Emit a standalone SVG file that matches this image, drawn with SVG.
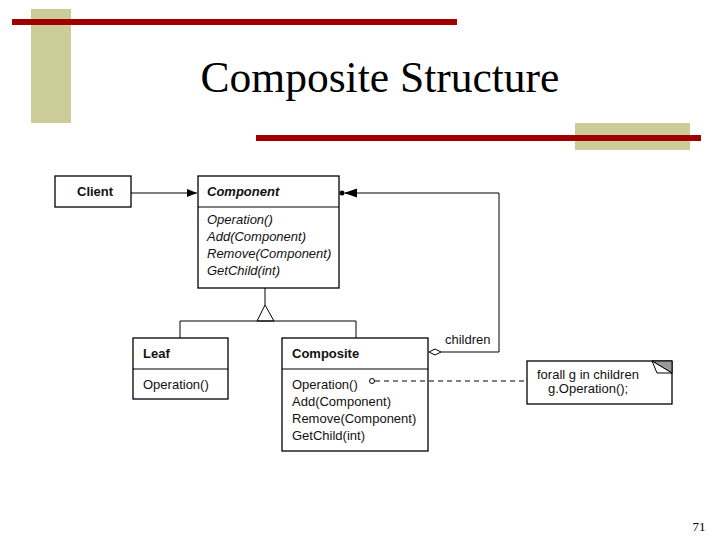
<svg xmlns="http://www.w3.org/2000/svg" width="720" height="540" viewBox="0 0 720 540">
<defs>
<style>
.tan{fill:#CCCC99}
.red{fill:#A00000}
.title{font-family:"Liberation Serif","Times New Roman",serif;font-size:43.5px;fill:#000}
.pg{font-family:"Liberation Serif","Times New Roman",serif;font-size:13px;fill:#000}
.box{fill:#fff;stroke:#000;stroke-width:1.3}
.ln{fill:none;stroke:#000;stroke-width:1}
.t{font-family:"Liberation Sans",Arial,sans-serif;font-size:13px;fill:#111}
.b{font-weight:bold}
.i{font-style:italic}
.dash{fill:none;stroke:#000;stroke-width:1;stroke-dasharray:5,4}
</style>
<marker id="arr" viewBox="0 0 10 8" refX="10" refY="4" markerWidth="10" markerHeight="8" markerUnits="userSpaceOnUse" orient="auto">
<path d="M0,0 L10,4 L0,8 Z" fill="#000"/>
</marker>
</defs>
<rect width="720" height="540" fill="#fff"/>
<g id="decor">
<rect class="tan" x="31" y="9" width="40" height="114"/>
<rect class="red" x="12" y="19" width="445" height="6"/>
<rect class="tan" x="575" y="123" width="115" height="27"/>
<rect class="red" x="256" y="135" width="445" height="6"/>
<text class="title" x="380" y="92" text-anchor="middle">Composite Structure</text>
<text class="pg" x="699" y="531" text-anchor="middle">71</text>
</g>
<g id="client">
<rect class="box" x="55" y="176" width="76" height="31"/>
<text class="t b" x="77" y="196">Client</text>
</g>
<g id="component">
<rect class="box" x="198" y="176" width="141" height="112"/>
<line class="ln" x1="198" y1="207" x2="339" y2="207"/>
<text class="t b i" x="207" y="196">Component</text>
<text class="t i" x="207" y="224">Operation()</text>
<text class="t i" x="207" y="241">Add(Component)</text>
<text class="t i" x="207" y="258">Remove(Component)</text>
<text class="t i" x="207" y="275">GetChild(int)</text>
</g>
<g id="leaf">
<rect class="box" x="133" y="338" width="95" height="61"/>
<line class="ln" x1="133" y1="369" x2="228" y2="369"/>
<text class="t b" x="143" y="358">Leaf</text>
<text class="t" x="143" y="389">Operation()</text>
</g>
<g id="composite">
<rect class="box" x="282" y="338" width="146" height="113"/>
<line class="ln" x1="282" y1="369" x2="428" y2="369"/>
<text class="t b" x="292" y="358">Composite</text>
<text class="t" x="292" y="389">Operation()</text>
<text class="t" x="292" y="406">Add(Component)</text>
<text class="t" x="292" y="423">Remove(Component)</text>
<text class="t" x="292" y="440">GetChild(int)</text>
</g>
<g id="note">
<rect class="box" x="527" y="361" width="145" height="43"/>
<path d="M652,361 L672,361 L672,373 Z" fill="#999" stroke="#000" stroke-width="1"/>
<path d="M652,361 L672,373 L657,373 Z" fill="#fff" stroke="#000" stroke-width="1"/>
<text class="t" x="537" y="379">forall g in children</text>
<text class="t" x="548" y="393">g.Operation();</text>
</g>
<g id="connectors">
<line class="ln" x1="131" y1="193" x2="197" y2="193" marker-end="url(#arr)"/>
<line class="ln" x1="265" y1="288" x2="265" y2="305"/>
<path d="M265,305 L257,321 L274,321 Z" fill="#fff" stroke="#000" stroke-width="1"/>
<polyline class="ln" points="180,338 180,321 356,321 356,338"/>
<polyline class="ln" points="441,352 499,352 499,193 345,193"/>
<path d="M344,193 L357,188.5 L357,197.5 Z" fill="#000"/>
<circle cx="342" cy="193" r="2.5" fill="#000"/>
<path d="M429,352 L435,349 L441,352 L435,355 Z" fill="#fff" stroke="#000" stroke-width="1"/>
<text class="t" x="445" y="344">children</text>
<circle cx="372" cy="381" r="2.5" fill="#fff" stroke="#000" stroke-width="1"/>
<line class="dash" x1="375" y1="381" x2="527" y2="381"/>
</g>
</svg>
